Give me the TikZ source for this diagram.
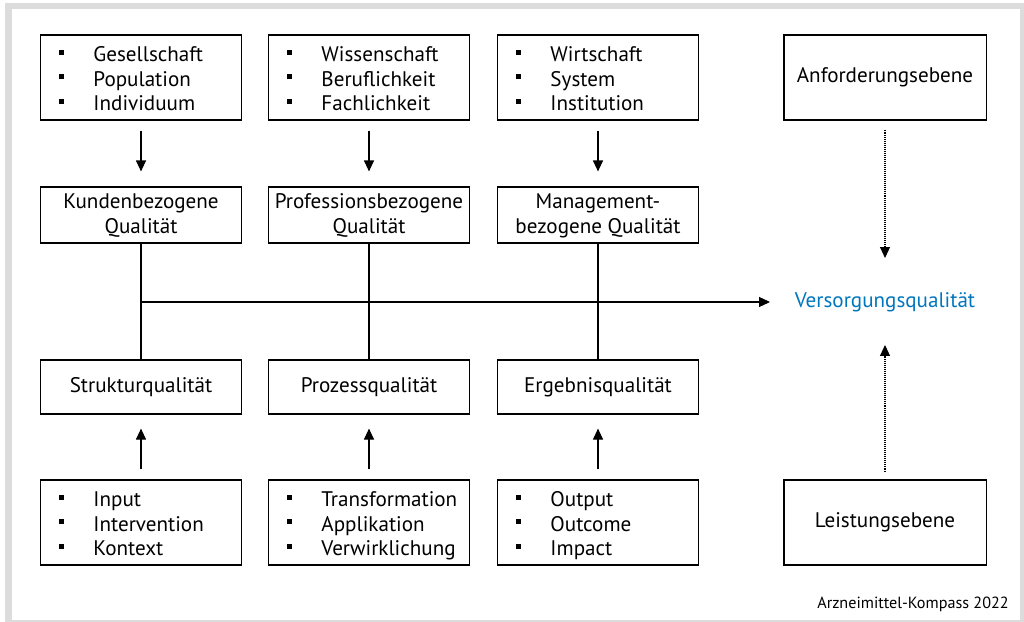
\documentclass[tikz,border=0pt]{standalone}
\usepackage{fontspec}
\setmainfont{PT Sans}
\usepackage{xcolor}
\usepackage{tikz}
\usetikzlibrary{arrows.meta}
\usetikzlibrary{calc}

\definecolor{vblue}{RGB}{0,118,189}
\definecolor{framegray}{RGB}{220,220,220}
% 1px = 0.025cm
\newcommand{\sq}{\rule[0.175cm]{0.13cm}{0.13cm}}
\newcommand{\bulletlist}[3]{\makebox[5.025cm][l]{\hspace{0.4625cm}%
\raisebox{-0.1cm}[\height][\depth]{\begin{tabular}{@{}p{0.8625cm}@{}l@{}}
\sq & #1\\
\sq & #2\\
\sq & #3
\end{tabular}}}}

\begin{document}
\begin{tikzpicture}[x=0.025cm,y=-0.025cm,
  font=\fontsize{15}{17.4}\selectfont,
  box/.style={draw, line width=0.75pt, minimum width=5.025cm, inner sep=0pt, align=center},
  listbox/.style={box, minimum height=2.125cm},
  qbox/.style={box, minimum height=1.4cm},
  arr/.style={line width=0.8pt, -{Triangle[length=7.8pt,width=7.1pt]}},
  dotarr/.style={arr, dash pattern=on 0.7pt off 0.7pt},
  line/.style={line width=0.8pt}]
\useasboundingbox (0,0) rectangle (1024,622);
\draw[framegray, line width=0.15cm] (8.5,6) rectangle (1023,623);

% Anforderungen
\node[listbox] (A1) at (141,77.5) {\bulletlist{Gesellschaft}{Population}{Individuum}};
\node[listbox] (A2) at (369,77.5) {\bulletlist{Wissenschaft}{Beruflichkeit}{Fachlichkeit}};
\node[listbox] (A3) at (598,77.5) {\bulletlist{Wirtschaft}{System}{Institution}};

% Qualitaetsdimensionen
\node[qbox, text depth=0.08cm] (B1) at (141,215) {Kundenbezogene\\Qualität};
\node[qbox, text depth=0.08cm] (B2) at (369,215) {Professionsbezogene\\Qualität};
\node[qbox, text depth=0.08cm] (B3) at (598,215) {Management-\\bezogene Qualität};

\node[qbox, minimum height=1.35cm] (C1) at (141,387) {Strukturqualität};
\node[qbox, minimum height=1.35cm] (C2) at (369,387) {Prozessqualität};
\node[qbox, minimum height=1.35cm] (C3) at (598,387) {Ergebnisqualität};

% Leistungen
\node[listbox] (D1) at (141,522.5) {\bulletlist{Input}{Intervention}{Kontext}};
\node[listbox] (D2) at (369,522.5) {\bulletlist{Transformation}{Applikation}{Verwirklichung}};
\node[listbox] (D3) at (598,522.5) {\bulletlist{Output}{Outcome}{Impact}};

% Ebenen
\node[listbox, minimum width=5.05cm] (E) at (885,77.5) {Anforderungsebene};
\node[listbox, minimum width=5.05cm] (F) at (885,522.5) {Leistungsebene};
\node[text=vblue] (V) at (885,302) {Versorgungsqualität};

\node[anchor=east, inner sep=0pt, font=\fontsize{11.5}{13}\selectfont] (Q) at (1009,604) {Arzneimittel-Kompass 2022};

\foreach \i in {1,2,3}{
  \draw[arr, shorten <=7.1pt, shorten >=10.7pt] (A\i) -- (B\i);
  \draw[arr, shorten <=7.1pt, shorten >=10pt] (D\i) -- (C\i);
  \draw[line] (B\i) -- (C\i);
}
\draw[arr] (B1.south |- V) -- ($(V)+(-115,0)$);
\draw[dotarr, shorten <=6.4pt] (E) -- ($(V)+(0,-44)$);
\draw[dotarr, shorten <=5pt] (F) -- ($(V)+(0,43)$);
\end{tikzpicture}
\end{document}
